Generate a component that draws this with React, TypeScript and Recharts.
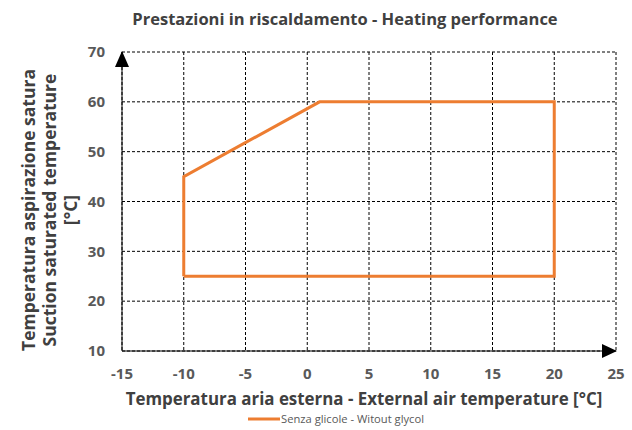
import React from "react";
import { LineChart, Line, XAxis, YAxis, CartesianGrid, ReferenceDot } from "recharts";

const seriesName = "Senza glicole - Witout glycol";
const xValues = [-10, -10, 1, 20, 20, -10];
const yValues = [25, 45, 60, 60, 25, 25];
const xTicks = [-15, -10, -5, 0, 5, 10, 15, 20, 25];
const yTicks = [10, 20, 30, 40, 50, 60, 70];
const title = "Prestazioni in riscaldamento - Heating performance";
const xTitle = "Temperatura aria esterna - External air temperature [°C]";
const yTitleLines = ["Temperatura aspirazione satura", "Suction saturated temperature", "[°C]"];

const data = xValues.map((x, i) => ({ x, y: yValues[i] }));

const FONT = "'Open Sans', sans-serif";
const ORANGE = "#ED7D31";

const UpArrow = (props: any) => {
  const { cx, cy } = props;
  return <path d={`M${cx},${cy - 1} L${cx - 7},${cy + 15} L${cx + 7},${cy + 15} Z`} fill="#000" />;
};
const RightArrow = (props: any) => {
  const { cx, cy } = props;
  return <path d={`M${cx + 1},${cy} L${cx - 14},${cy - 7} L${cx - 14},${cy + 7} Z`} fill="#000" />;
};

const YTitle = () => (
  <g>
    {yTitleLines.map((t, i) => {
      const x = [28, 49, 70][i];
      const y = 210;
      return (
        <text
          key={i}
          x={x}
          y={y}
          transform={`rotate(-90 ${x} ${y})`}
          textAnchor="middle"
          dominantBaseline="central"
          fontFamily={FONT}
          fontWeight="bold"
          fontSize={17.5}
          fill="#404040"
        >
          {t}
        </text>
      );
    })}
  </g>
);

const XTitle = () => (
  <text x={364} y={398} textAnchor="middle" dominantBaseline="central" fontFamily={FONT} fontWeight="bold" fontSize={16.9} fill="#404040">
    {xTitle}
  </text>
);

export default function App() {
  return (
    <div style={{ position: "absolute", left: 0, top: 0, width: 632, height: 430, background: "#fff" }}>
      <LineChart width={632} height={430} data={data} margin={{ top: 52, right: 16, bottom: 49, left: 62 }}>
        <CartesianGrid stroke="#000" strokeDasharray="3 2" strokeWidth={1} />
        <XAxis
          type="number"
          dataKey="x"
          domain={[-15, 25]}
          ticks={xTicks}
          interval={0}
          axisLine={{ stroke: "#000", strokeWidth: 1 }}
          tickLine={false}
          tick={{ fontFamily: FONT, fontWeight: "bold", fontSize: 15, fill: "#595959" }}
          tickMargin={11}
          height={30}
          label={{ content: XTitle }}
        />
        <YAxis
          type="number"
          dataKey="y"
          domain={[10, 70]}
          ticks={yTicks}
          interval={0}
          axisLine={{ stroke: "#000", strokeWidth: 1 }}
          tickLine={false}
          tick={{ fontFamily: FONT, fontWeight: "bold", fontSize: 15, fill: "#595959" }}
          tickMargin={11}
          width={60}
          label={{ content: YTitle }}
        />
        <Line
          type="linear"
          dataKey="y"
          name={seriesName}
          stroke={ORANGE}
          strokeWidth={3}
          strokeLinejoin="miter"
          dot={false}
          activeDot={false}
          isAnimationActive={false}
        />
        <ReferenceDot x={-15} y={70} ifOverflow="visible" shape={UpArrow} />
        <ReferenceDot x={25} y={10} ifOverflow="visible" shape={RightArrow} />
      </LineChart>
      <div
        style={{
          position: "absolute",
          top: 7,
          left: 0,
          width: 690,
          textAlign: "center",
          fontFamily: FONT,
          fontWeight: "bold",
          fontSize: 16.5,
          color: "#404040",
          whiteSpace: "nowrap",
        }}
      >
        {title}
      </div>
      <div
        style={{
          position: "absolute",
          top: 411,
          left: 248,
          display: "flex",
          alignItems: "center",
          fontFamily: FONT,
          fontSize: 11.2,
          color: "#595959",
          whiteSpace: "nowrap",
          lineHeight: "16px",
        }}
      >
        <svg width={32} height={6} style={{ marginRight: 1 }}>
          <line x1={0} y1={3} x2={32} y2={3} stroke={ORANGE} strokeWidth={3} />
        </svg>
        <span>{seriesName}</span>
      </div>
    </div>
  );
}
